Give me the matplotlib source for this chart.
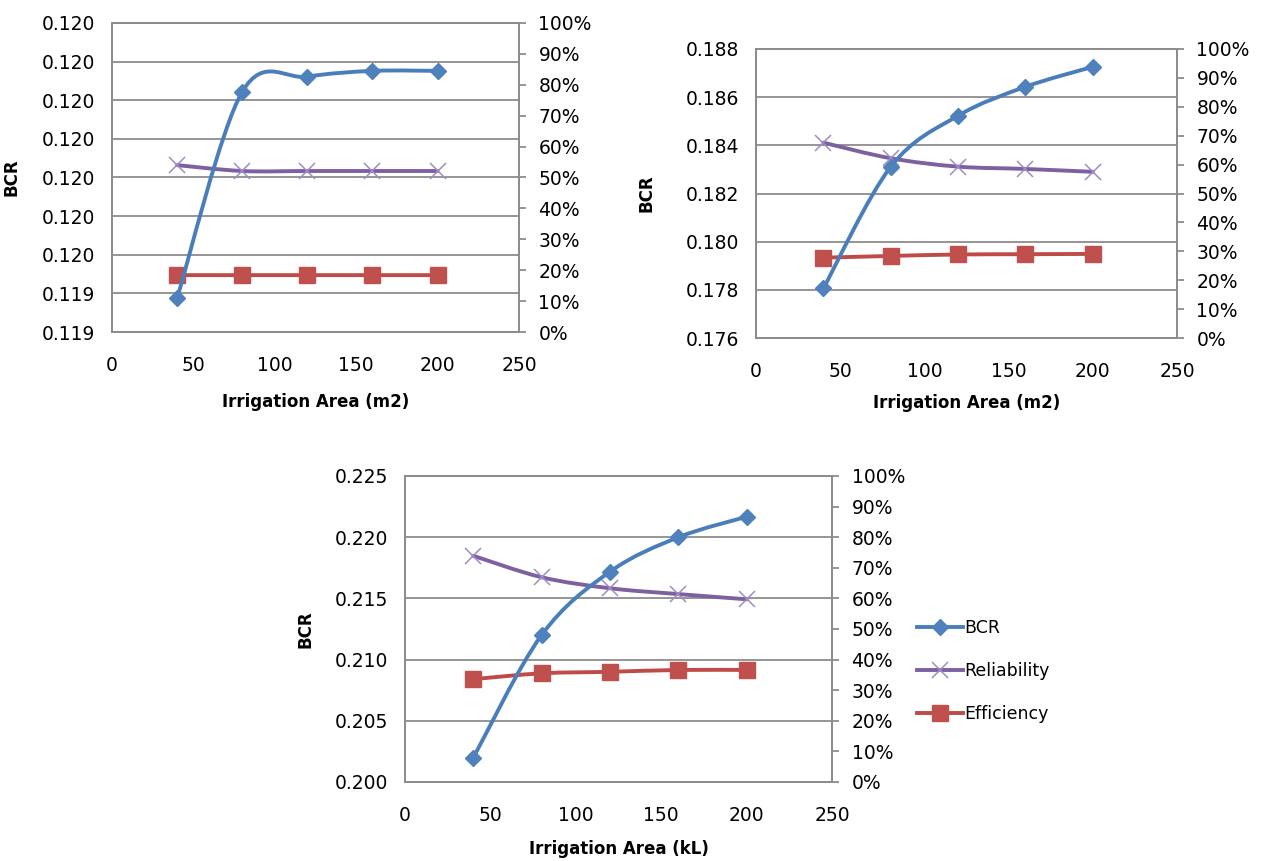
import numpy as np
import matplotlib
matplotlib.use("Agg")
import matplotlib.pyplot as plt
from matplotlib.path import Path
from matplotlib.patches import PathPatch
from matplotlib.lines import Line2D
from matplotlib.ticker import MultipleLocator, FuncFormatter, PercentFormatter

# irrigation area, same for all three panels
area = [40, 80, 120, 160, 200]

# panel 1 (top left)
bcr_1 = [0.119388, 0.119922, 0.119961, 0.119976, 0.119976]
rel_1 = [0.540, 0.521, 0.521, 0.521, 0.521]
eff_1 = [0.184, 0.184, 0.184, 0.184, 0.184]

# panel 2 (top right)
bcr_2 = [0.17806, 0.18311, 0.18523, 0.18643, 0.18726]
rel_2 = [0.676, 0.622, 0.593, 0.585, 0.575]
eff_2 = [0.278, 0.284, 0.289, 0.290, 0.291]

# panel 3 (bottom)
bcr_3 = [0.20199, 0.21201, 0.21718, 0.21999, 0.22167]
rel_3 = [0.739, 0.669, 0.633, 0.614, 0.597]
eff_3 = [0.336, 0.355, 0.360, 0.366, 0.366]

series_names = ["BCR", "Reliability", "Efficiency"]

BLUE, BLUE_M = "#4a7ebb", "#4f81bd"
PURPLE, PURPLE_M = "#7d60a0", "#9f8cc6"
RED, RED_M = "#be4b48", "#c0504d"
GRID = "#8c8c8c"


def smooth_path(xs, ys):
    # excel style smoothed line: cubic bezier through the points
    pts = np.column_stack([xs, ys]).astype(float)
    n = len(pts)
    verts = [pts[0]]
    codes = [Path.MOVETO]
    for i in range(n - 1):
        p_prev = pts[i - 1] if i > 0 else pts[i]
        p_next = pts[i + 2] if i + 2 < n else pts[i + 1]
        c1 = pts[i] + (pts[i + 1] - p_prev) / 6.
        c2 = pts[i + 1] - (p_next - pts[i]) / 6.
        verts += [c1, c2, pts[i + 1]]
        codes += [Path.CURVE4] * 3
    return Path(verts, codes)


def draw_series(ax, trans, x, y, lc, mc, marker, ms, mew, z):
    ax.add_patch(PathPatch(smooth_path(x, y), fill=False, edgecolor=lc, lw=2.8,
                           transform=trans, zorder=z, capstyle="round"))
    ax.plot(x, y, linestyle="none", marker=marker, markersize=ms, color=mc,
            markeredgecolor=mc, markeredgewidth=mew, transform=trans, zorder=z + 0.5)


def draw_panel(fig, rect, bcr, rel, eff, ylim, ystep, xlabel, ylab_x, xlab_y):
    ax = fig.add_axes(rect)
    ax2 = ax.twinx()

    ax.set_xlim(0, 250)
    ax.set_ylim(*ylim)
    ax2.set_ylim(0, 1)

    ax.xaxis.set_major_locator(MultipleLocator(50))
    ax.yaxis.set_major_locator(MultipleLocator(ystep))
    ax.yaxis.set_major_formatter(FuncFormatter(lambda v, _: f"{v + 1e-9:.3f}"))
    ax2.yaxis.set_major_locator(MultipleLocator(0.1))
    ax2.yaxis.set_major_formatter(PercentFormatter(1.0, decimals=0))

    ax.grid(True, axis="y", color=GRID, lw=1.3)
    ax.set_axisbelow(True)

    for a in (ax, ax2):
        for s in a.spines.values():
            s.set_color(GRID)
            s.set_linewidth(1.3)
    ax.tick_params(axis="x", length=0, pad=17, labelsize=13.5)
    ax.tick_params(axis="y", length=0, pad=12, labelsize=13.5)
    ax2.tick_params(axis="y", length=5, width=1.3, color=GRID, pad=9, labelsize=13.5)

    # secondary series drawn inside the primary axes so the BCR line stays on top
    draw_series(ax, ax2.transData, area, eff, RED, RED_M, "s", 11, 1, 3)
    draw_series(ax, ax2.transData, area, rel, PURPLE, PURPLE_M, "x", 11, 1.1, 4)
    draw_series(ax, ax.transData, area, bcr, BLUE, BLUE_M, "D", 8, 1, 5)

    ax.set_ylabel("BCR", fontsize=12, fontweight="bold")
    ax.yaxis.set_label_coords(ylab_x, 0.5)
    ax.set_xlabel(xlabel, fontsize=12, fontweight="bold")
    ax.xaxis.set_label_coords(0.5, xlab_y)
    return ax


plt.rcParams["font.family"] = "DejaVu Sans"
fig = plt.figure(figsize=(12.63, 8.61), dpi=100)

draw_panel(fig, [0.0887, 0.6144, 0.3222, 0.3589], bcr_1, rel_1, eff_1,
           (0.1193, 0.1201), 0.0001, "Irrigation Area (m2)", -0.226, -0.197)
draw_panel(fig, [0.5986, 0.6074, 0.3333, 0.3357], bcr_2, rel_2, eff_2,
           (0.176, 0.188), 0.002, "Irrigation Area (m2)", -0.24, -0.194)
draw_panel(fig, [0.3207, 0.0918, 0.3381, 0.3554], bcr_3, rel_3, eff_3,
           (0.200, 0.225), 0.005, "Irrigation Area (kL)", -0.211, -0.19)

handles = [
    Line2D([], [], color=BLUE, lw=2.8, marker="D", markersize=8, markerfacecolor=BLUE_M, markeredgecolor=BLUE_M),
    Line2D([], [], color=PURPLE, lw=2.8, marker="x", markersize=11, markeredgecolor=PURPLE_M, markeredgewidth=1.1),
    Line2D([], [], color=RED, lw=2.8, marker="s", markersize=11, markerfacecolor=RED_M, markeredgecolor=RED_M),
]
fig.legend(handles, series_names, loc="center left", bbox_to_anchor=(0.714, 1 - 671 / 861),
           frameon=False, fontsize=12.5, handlelength=2.6, handletextpad=0.1, labelspacing=1.45)

fig.savefig("out.png", dpi=100)
